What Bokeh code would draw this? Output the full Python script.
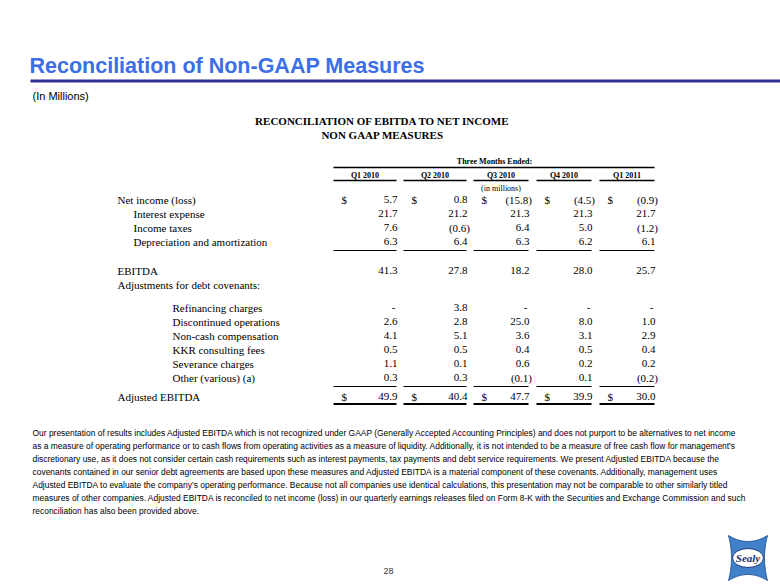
from bokeh.plotting import figure
from bokeh.models import Range1d, ColumnDataSource
from bokeh.core.properties import value
from bokeh.embed import file_html
from bokeh.resources import INLINE
import numpy as np

# ---------------- data ----------------
quarters = ["Q1 2010", "Q2 2010", "Q3 2010", "Q4 2010", "Q1 2011"]
net_income = [5.7, 0.8, -15.8, -4.5, -0.9]
interest_expense = [21.7, 21.2, 21.3, 21.3, 21.7]
income_taxes = [7.6, -0.6, 6.4, 5.0, -1.2]
depreciation = [6.3, 6.4, 6.3, 6.2, 6.1]
ebitda = [41.3, 27.8, 18.2, 28.0, 25.7]
refinancing = [None, 3.8, None, None, None]
discontinued = [2.6, 2.8, 25.0, 8.0, 1.0]
noncash_comp = [4.1, 5.1, 3.6, 3.1, 2.9]
kkr_fees = [0.5, 0.5, 0.4, 0.5, 0.4]
severance = [1.1, 0.1, 0.6, 0.2, 0.2]
other_various = [0.3, 0.3, -0.1, 0.1, -0.2]
adjusted_ebitda = [49.9, 40.4, 47.7, 39.9, 30.0]

row_labels = ["Net income (loss)", "Interest expense", "Income taxes",
              "Depreciation and amortization", "EBITDA",
              "Adjustments for debt covenants:", "Refinancing charges",
              "Discontinued operations", "Non-cash compensation",
              "KKR consulting fees", "Severance charges", "Other (various) (a)",
              "Adjusted EBITDA"]
row_values = [net_income, interest_expense, income_taxes, depreciation, ebitda,
              None, refinancing, discontinued, noncash_comp, kkr_fees,
              severance, other_various, adjusted_ebitda]
dollar_rows = ["Net income (loss)", "Adjusted EBITDA"]

title = "Reconciliation of Non-GAAP Measures"
subtitle = "(In Millions)"
table_title = ["RECONCILIATION OF EBITDA TO NET INCOME", "NON GAAP MEASURES"]
footnote = [
    "Our presentation of results includes Adjusted EBITDA which is not recognized under GAAP (Generally Accepted Accounting Principles) and does not purport to be alternatives to net income",
    "as a measure of operating performance or to cash flows from operating activities as a measure of liquidity.  Additionally, it is not intended to be a measure of free cash flow for management's",
    "discretionary use, as it does not consider certain cash requirements such as interest payments, tax payments and debt service requirements.  We present Adjusted EBITDA because the",
    "covenants contained in our senior debt agreements are based upon these measures and Adjusted EBITDA is a material component of these covenants.  Additionally, management uses",
    "Adjusted EBITDA to evaluate the company\u2019s operating performance.  Because not all companies use identical calculations, this presentation may not be comparable to other similarly titled",
    "measures of other companies. Adjusted EBITDA is reconciled to net income (loss) in our quarterly earnings releases filed on Form 8-K with the Securities and Exchange Commission and such",
    "reconciliation has also been provided above.",
]
page_number = "28"

# ---------------- layout ----------------
row_y = [199, 213, 227, 241, 270, 284, 307, 321, 335, 349, 363, 377, 396]
row_x = [117, 133, 133, 133, 117, 117, 172, 172, 172, 172, 172, 172, 117]
col_left = [333, 403, 473, 536, 599]
col_right = [396, 466, 528, 591, 654]

SERIF = value("Liberation Serif")
SANS = value("Liberation Sans")

p = figure(width=780, height=585, x_range=Range1d(0, 780), y_range=Range1d(585, 0),
           output_backend="svg", toolbar_location=None, min_border=0,
           x_axis_location=None, y_axis_location=None)
p.xgrid.visible = False
p.ygrid.visible = False
p.outline_line_color = None
p.background_fill_color = "white"
p.border_fill_color = "white"

# title
p.text(x=[29], y=[65], text=[title], text_font=SANS, text_font_style="bold",
       text_font_size="21.5px", text_color="#3c6ee6", text_baseline="middle")
p.segment(x0=[30], y0=[80.5], x1=[780], y1=[80.5], line_color="#2e3192", line_width=3)
p.text(x=[32], y=[95], text=[subtitle], text_font=SANS, text_font_size="11px",
       text_color="black", text_baseline="middle")

# table title
p.text(x=[382, 382], y=[120, 134], text=table_title, text_font=SERIF,
       text_font_style="bold", text_font_size="11px", text_align="center",
       text_baseline="middle", text_color="black")

# header
p.text(x=[(col_left[0] + col_right[-1]) / 2 + 0.5], y=[161], text=["Three Months Ended:"],
       text_font=SERIF, text_font_style="bold", text_font_size="8px",
       text_align="center", text_baseline="middle", text_color="black")
p.segment(x0=[col_left[0]], y0=[167], x1=[col_right[-1]], y1=[167],
          line_color="black", line_width=1.5)
p.text(x=[(l + r) / 2 for l, r in zip(col_left, col_right)], y=[175] * 5, text=quarters,
       text_font=SERIF, text_font_style="bold", text_font_size="8px",
       text_align="center", text_baseline="middle", text_color="black")
p.segment(x0=col_left, y0=[180] * 5, x1=col_right, y1=[180] * 5,
          line_color="black", line_width=1.5)
p.text(x=[(col_left[2] + col_right[2]) / 2], y=[188], text=["(in millions)"],
       text_font=SERIF, text_font_size="8px", text_align="center",
       text_baseline="middle", text_color="black")

# row labels
p.text(x=row_x, y=row_y, text=row_labels, text_font=SERIF, text_font_size="11px",
       text_baseline="middle", text_color="black")

# values
pos = dict(x=[], y=[], t=[])
neg = dict(x=[], y=[], t=[])
dol = dict(x=[], y=[], t=[])
for label, vals, y in zip(row_labels, row_values, row_y):
    if vals is None:
        continue
    for i, v in enumerate(vals):
        if v is None:
            pos["x"].append(col_right[i] - 1); pos["y"].append(y); pos["t"].append("-")
        elif v < 0:
            neg["x"].append(col_right[i] + 3.5); neg["y"].append(y); neg["t"].append(f"({abs(v):.1f})")
        else:
            pos["x"].append(col_right[i] + 1); pos["y"].append(y); pos["t"].append(f"{v:.1f}")
        if label in dollar_rows:
            dol["x"].append(col_left[i] + 8); dol["y"].append(y); dol["t"].append("$")

for d, align in ((pos, "right"), (neg, "right"), (dol, "left")):
    p.text(x="x", y="y", text="t", source=ColumnDataSource(d), text_font=SERIF,
           text_font_size="11px", text_align=align, text_baseline="middle",
           text_color="black")

# underlines
p.segment(x0=col_left, y0=[250] * 5, x1=col_right, y1=[250] * 5, line_color="black", line_width=1)
p.segment(x0=col_left, y0=[386] * 5, x1=col_right, y1=[386] * 5, line_color="black", line_width=1.2)
p.segment(x0=col_left, y0=[403.5] * 5, x1=col_right, y1=[403.5] * 5, line_color="black", line_width=2)

# footnote
p.text(x=[32] * len(footnote), y=[432 + 13 * i for i in range(len(footnote))], text=footnote,
       text_font=SANS, text_font_size="8.45px", text_baseline="middle", text_color="black")

# page number
p.text(x=[388], y=[570], text=[page_number], text_font=SANS, text_font_size="9px",
       text_align="center", text_baseline="middle", text_color="#333333")

# logo
cx, cy = 747.5, 557.5
t = np.linspace(-1, 1, 30)
top_x = cx + 19.5 * t
top_y = (cy - 22.5) + 6 * (1 - t ** 2)
right_y = cy + 22.5 * t
right_x = (cx + 19.5) - 3 * (1 - t ** 2)
bot_x = cx - 19.5 * t
bot_y = (cy + 22.5) - 6 * (1 - t ** 2)
left_y = cy - 22.5 * t
left_x = (cx - 19.5) + 3 * (1 - t ** 2)
lx = np.concatenate([top_x, right_x, bot_x, left_x])
ly = np.concatenate([top_y, right_y, bot_y, left_y])
p.patch(lx, ly, fill_color="#3f80c8", line_color="#2a5a9a", line_width=1)
p.ellipse(x=[cx], y=[cy], width=31, height=19, fill_color="white", line_color="#1c3a7a", line_width=1)
p.text(x=[cx], y=[cy], text=["Sealy"], text_font=SERIF, text_font_style="bold italic",
       text_font_size="11px", text_align="center", text_baseline="middle", text_color="#1c2f6e")

open("out.html", "w").write(file_html(p, INLINE))
